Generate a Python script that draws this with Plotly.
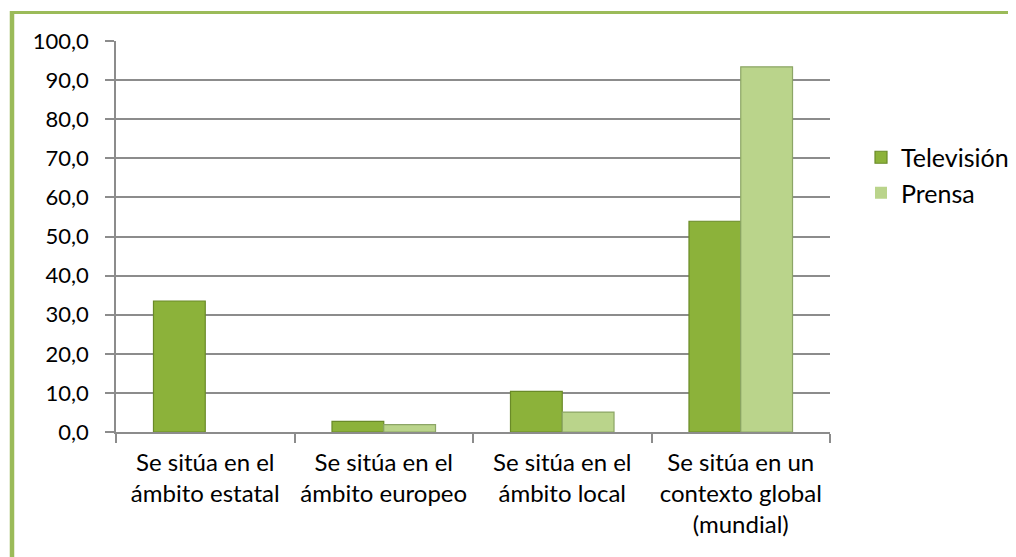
import plotly.graph_objects as go

categories = [
    "Se sitúa en el<br>ámbito estatal",
    "Se sitúa en el<br>ámbito europeo",
    "Se sitúa en el<br>ámbito local",
    "Se sitúa en un<br>contexto global<br>(mundial)",
]
television = [33.5, 2.7, 10.4, 53.9]
prensa = [0.0, 1.9, 5.1, 93.4]
y_ticks = [0, 10, 20, 30, 40, 50, 60, 70, 80, 90, 100]

FONT = "Lato"
OFF = 8  # page body margin

W, H = 1016 - OFF, 557 - OFF
# screen coordinates of the plot area
SL, SR, ST, SB = 116, 830, 41, 432
ml, mr, mt, mb = SL - OFF, (W + OFF) - SR, ST - OFF, (H + OFF) - SB
pw, ph = SR - SL, SB - ST

def px_x(x):
    return (x - SL) / pw

def px_y(y):
    return 1 - (y - ST) / ph

def line_widths(vals, w):
    return [0 if v == 0 else w for v in vals]

fig = go.Figure()
fig.add_trace(go.Bar(
    x=categories, y=television, name="Televisión",
    marker=dict(color="#8CB23A",
                line=dict(color="#6A8A28", width=line_widths(television, 1.2))),
))
fig.add_trace(go.Bar(
    x=categories, y=prensa, name="Prensa",
    marker=dict(color="#BAD48B",
                line=dict(color="#8CA566", width=line_widths(prensa, 1.2))),
))

fig.update_layout(
    width=W, height=H,
    margin=dict(l=ml, r=mr, t=mt, b=mb, autoexpand=False),
    paper_bgcolor="white", plot_bgcolor="white",
    separators=",.",
    barmode="group", bargap=0.42, bargroupgap=0,
    font=dict(family=FONT, size=22, color="black"),
    showlegend=True,
    legend=dict(
        x=px_x(861), y=px_y(175), xanchor="left", yanchor="middle",
        font=dict(size=25, color="black"), bgcolor="rgba(0,0,0,0)",
        itemwidth=30,
    ),
    xaxis=dict(
        showline=True, linecolor="#8C8C8C", linewidth=1.5,
        ticks="outside", tickson="boundaries", ticklen=9,
        tickcolor="#8C8C8C", tickwidth=1.5, tickangle=0,
        showgrid=False, tickfont=dict(size=24),
        ticklabelstandoff=8, fixedrange=True,
    ),
    yaxis=dict(
        range=[0, 100], tickvals=y_ticks, tickformat=".1f",
        showline=True, linecolor="#8C8C8C", linewidth=1.5,
        ticks="outside", ticklen=9, tickcolor="#8C8C8C", tickwidth=1.5,
        showgrid=True, gridcolor="#8C8C8C", gridwidth=1.5,
        zeroline=False, tickfont=dict(size=22), fixedrange=True,
        ticklabelstandoff=12,
    ),
    shapes=[
        dict(type="line", xref="paper", yref="paper",
             x0=px_x(10), x1=px_x(1040), y0=px_y(12.5), y1=px_y(12.5),
             line=dict(color="#9BBB59", width=3)),
        dict(type="line", xref="paper", yref="paper",
             x0=px_x(12), x1=px_x(12), y0=px_y(11), y1=px_y(580),
             line=dict(color="#9BBB59", width=4.5)),
    ],
)

fig.write_html("out.html")
